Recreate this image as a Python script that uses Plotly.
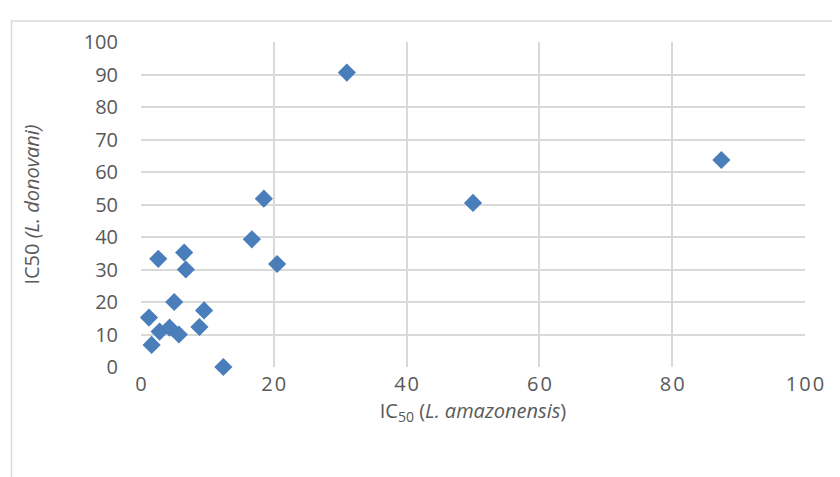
import plotly.graph_objects as go

# IC50 values
ic50_amazonensis = [31.0, 87.4, 50.0, 18.5, 16.7, 20.5, 2.6, 6.5, 6.75, 5.0,
                    1.2, 9.5, 8.8, 2.8, 4.3, 5.7, 1.6, 12.4]
ic50_donovani = [90.6, 63.7, 50.5, 51.8, 39.3, 31.7, 33.3, 35.2, 30.0, 20.0,
                 15.2, 17.4, 12.3, 10.9, 12.1, 10.0, 6.8, 0.0]

x_ticks = [0, 20, 40, 60, 80, 100]
x_ticklabels = ["0", "2\u200a0", "4\u200a0", "6\u200a0", "8\u200a0", "1\u200a0\u200a0"]

grid = "#d9d9d9"
txt = "#595959"
fnt = "Open Sans"

fig = go.Figure(go.Scatter(
    x=ic50_amazonensis,
    y=ic50_donovani,
    mode="markers",
    marker=dict(symbol="diamond", size=14, color="#4a7ebb"),
    cliponaxis=False,
    showlegend=False,
))

fig.update_xaxes(
    range=[0, 100], tickvals=x_ticks, ticktext=x_ticklabels,
    showgrid=True, gridcolor=grid, gridwidth=1.6,
    zeroline=False, showline=False, ticks="", ticklabelstandoff=3,
    tickfont=dict(family=fnt, size=20, color=txt),
    title=dict(text="IC<sub>50</sub> (<i>L. amazonensis</i>)",
               font=dict(family=fnt, size=20, color=txt), standoff=6),
)
fig.update_yaxes(
    range=[0, 100], dtick=10, showgrid=True, gridcolor=grid, gridwidth=1.6,
    zeroline=False, showline=False, ticks="", ticklabelstandoff=22,
    tickfont=dict(family=fnt, size=20, color=txt),
    title=dict(text="IC50 <i>(L. donovani)</i>",
               font=dict(family=fnt, size=20, color=txt), standoff=38),
)

# outer chart border (partly off the picture)
fig.add_shape(type="rect", xref="paper", yref="paper",
              x0=-0.195, y0=-0.5, x1=1.2, y1=1.0645,
              line=dict(color=grid, width=1.5), layer="below")

fig.update_layout(
    width=840, height=477,
    margin=dict(l=132.5, r=43, t=34, b=117.5),
    plot_bgcolor="white", paper_bgcolor="white",
)

fig.write_html("out.html")
